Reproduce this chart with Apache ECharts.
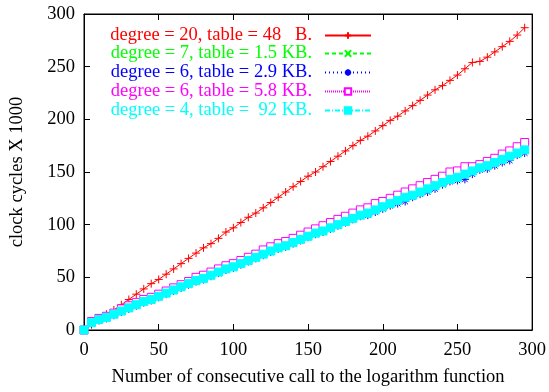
<!DOCTYPE html>
<html>
<head>
<meta charset="utf-8">
<script src="https://cdn.jsdelivr.net/npm/echarts@6/dist/echarts.min.js"></script>
<style>
  html, body { margin: 0; padding: 0; background: #fff; }
  #chart { width: 549px; height: 392px; }
</style>
</head>
<body>
<div id="chart"></div>
<script>
// x positions: one measurement every 5 calls
const calls = [0,5,10,15,20,25,30,35,40,45,50,55,60,65,70,75,80,85,90,95,
  100,105,110,115,120,125,130,135,140,145,150,155,160,165,170,175,180,185,190,195,
  200,205,210,215,220,225,230,235,240,245,250,255,260,265,270,275,280,285,290,295];

const deg20 = [0,5,10,15,19,24,29,34,39,44,
  48,53,58,63,68,73,78,82,87,93,
  97,102,107,111,116,121,126,131,136,141,
  146,150,155,160,165,170,175,180,184,189,
  194,199,203,208,213,218,223,228,232,237,
  242,248,254,255,259,264,269,274,280,287];

const deg7 = [0,7,11,13,16,19,22,25,28,30,
  33,36,39,42,45,48,50,53,56,59,
  61,64,67,70,73,76,79,82,85,88,
  91,94,96,99,102,105,108,111,113,116,
  119,122,125,128,130,133,137,140,142,145,
  148,151,153,156,158,162,165,168,171,174];

const deg6a = [0,6,9,11,14,17,20,23,26,28,
  31,34,37,40,43,46,48,51,54,57,
  59,62,65,68,71,74,77,79,82,85,
  88,91,93,96,99,102,105,108,109,112,
  115,118,120,122,126,129,131,134,138,141,
  142,143,148,152,153,156,159,161,166,168];

const deg6b = [0,8,11,13,16,20,23,26,29,31,
  34,37,40,43,46,50,52,55,58,61,
  63,66,69,72,76,79,82,84,87,90,
  93,96,99,102,105,108,111,114,116,120,
  122,125,128,131,134,137,140,143,146,150,
  151,155,155,157,160,163,167,170,174,178];

const deg4 = [0,7,10,12,15,18,21,24,27,29,
  32,35,38,41,44,47,49,52,55,58,
  60,63,66,69,72,75,78,80,83,86,
  89,92,94,97,100,103,106,109,111,114,
  117,120,123,126,128,131,134,137,140,143,
  145,148,151,154,156,159,162,165,168,171];

const names = [
  'degree = 20, table = 48   B.',
  'degree = 7, table = 1.5 KB.',
  'degree = 6, table = 2.9 KB.',
  'degree = 6, table = 5.8 KB.',
  'degree = 4, table =  92 KB.'
];
const colors = ['#ff0000', '#00ff00', '#0000ff', '#ff00ff', '#00ffff'];
const tickLabels = [0, 50, 100, 150, 200, 250, 300];

const FONT = '"Liberation Serif", "DejaVu Serif", serif';
const FS = 18.5;

const plusPath = 'path://M0,5L10,5M5,0L5,10';
const crossPath = 'path://M0,0L10,10M10,0L0,10';
const starPath = 'path://M0,5L10,5M5,0L5,10M1.5,1.5L8.5,8.5M8.5,1.5L1.5,8.5';

function pairs(ys) {
  return calls.map((x, i) => [x, ys[i]]);
}

const chart = echarts.init(document.getElementById('chart'));

const lineSeries = [
  { data: deg20, symbol: plusPath, size: 8, dash: 'solid', fill: 'none' },
  { data: deg7, symbol: crossPath, size: 7, dash: [4, 3], fill: 'none' },
  { data: deg6a, symbol: starPath, size: 8, dash: [1, 3], fill: 'none' },
  { data: deg6b, symbol: 'rect', size: 8, dash: [1, 1], fill: '#fff' },
  { data: deg4, symbol: 'rect', size: 8, dash: [5, 2, 1, 2], fill: '#00ffff' }
].map((s, i) => ({
  name: names[i],
  type: 'line',
  data: pairs(s.data),
  symbol: s.symbol,
  symbolSize: s.size,
  showSymbol: true,
  animation: false,
  lineStyle: { color: colors[i], width: 1, type: s.dash },
  itemStyle: { color: s.fill, borderColor: colors[i], borderWidth: 1 },
  emphasis: { disabled: true },
  z: 2 + i
}));

const rowTops = [26, 44, 63, 82, 101];
const legends = names.map((n, i) => ({
  data: [{ name: n, textStyle: { color: colors[i] } }],
  right: 177,
  top: rowTops[i],
  padding: 0,
  align: 'right',
  itemWidth: 46,
  itemHeight: 8,
  selectedMode: false,
  textStyle: { fontFamily: FONT, fontSize: FS, color: colors[i], padding: [0, 8, 0, 0] }
}));

const axisCommon = {
  type: 'value',
  min: 0,
  max: 300,
  interval: 50,
  splitLine: { show: false },
  axisLine: { show: true, onZero: false, lineStyle: { color: '#000', width: 1 } },
  axisTick: { show: true, inside: true, length: 6, lineStyle: { color: '#000' } }
};

chart.setOption({
  backgroundColor: '#fff',
  animation: false,
  grid: { left: 83, right: 14, top: 14, bottom: 59, show: true, borderColor: '#000', borderWidth: 1 },
  legend: legends,
  xAxis: [
    Object.assign({}, axisCommon, {
      position: 'bottom',
      name: 'Number of consecutive call to the logarithm function',
      nameLocation: 'middle',
      nameGap: 38,
      nameTextStyle: { fontFamily: FONT, fontSize: FS, color: '#000' },
      axisLabel: { fontFamily: FONT, fontSize: FS, color: '#000', margin: 11,
        formatter: v => tickLabels.includes(v) ? String(v) : '' }
    }),
    Object.assign({}, axisCommon, { position: 'top', axisLabel: { show: false } })
  ],
  yAxis: [
    Object.assign({}, axisCommon, {
      position: 'left',
      name: 'clock cycles X 1000',
      nameLocation: 'middle',
      nameGap: 57,
      nameTextStyle: { fontFamily: FONT, fontSize: FS, color: '#000' },
      axisLabel: { fontFamily: FONT, fontSize: FS, color: '#000', margin: 9 }
    }),
    Object.assign({}, axisCommon, { position: 'right', axisLabel: { show: false } })
  ],
  series: lineSeries
});
</script>
</body>
</html>
